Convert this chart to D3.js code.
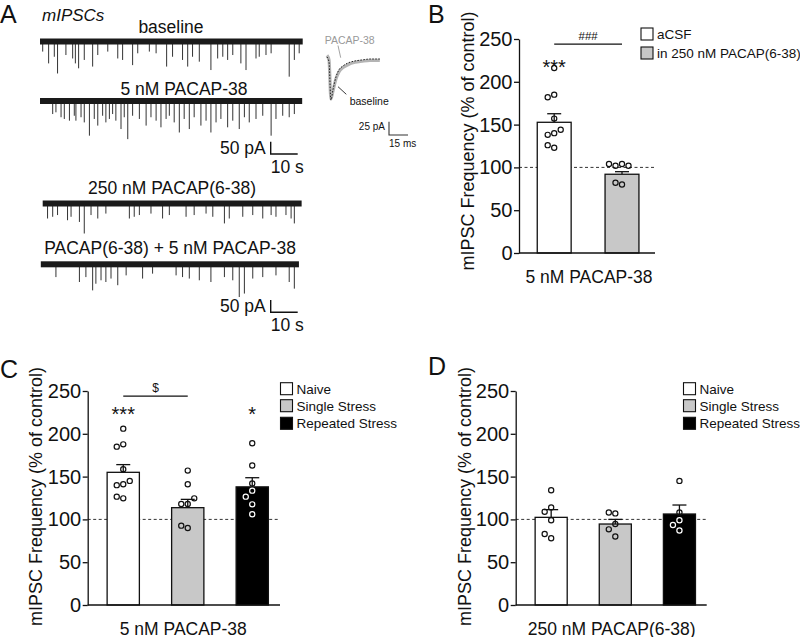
<!DOCTYPE html>
<html><head><meta charset="utf-8">
<script src="https://cdn.jsdelivr.net/npm/d3@7"></script>
<style>body{margin:0;background:#fff}svg text{font-family:"Liberation Sans",Arial,sans-serif}</style>
</head><body>
<svg id="fig" width="800" height="637"></svg>
<script>
// ---------------- DATA ----------------
const yTicks = [0, 50, 100, 150, 200, 250];
// Panel B
const catsB = ["aCSF", "in 250 nM PACAP(6-38)"];
const meansB = [152.7, 92];
const semB = [10, 3];
const pointsB = [[216, 185, 182, 157, 140, 138, 144, 123, 126], [104, 102, 102, 104, 80, 82]];
// Panel C
const catsCD = ["Naive", "Single Stress", "Repeated Stress"];
const meansC = [155, 113.7, 138];
const semC = [9, 9.7, 10.7];
const pointsC = [[206, 187.7, 185, 158.5, 141, 140, 145, 124.6, 126.6], [157, 141, 118, 118, 124.6, 90, 92.7], [189, 163, 142, 133.6, 126.6, 117.6, 106]];
// Panel D
const meansD = [102.4, 94.6, 106.3];
const semD = [9, 5.4, 10.5];
const pointsD = [[134, 114, 109, 99, 78, 83], [107, 108, 94.6, 88.4, 80], [145, 108, 99, 93.5, 87]];
// Panel A: mIPSC events [time (s), amplitude (pA)]
const spikesBaseline = [[1.0,41],[3.2,89],[5.3,62],[6.5,130],[9.6,55],[12.1,69],[13.1,89],[14.3,109],[16.4,75],[19.5,102],[21.4,55],[25.1,41],[28.8,69],[30.6,75],[34.3,96],[36.2,48],[40.5,41],[43.0,48],[46.9,102],[49.1,62],[52.8,75],[54.7,102],[56.5,62],[59.0,82],[63.3,116],[65.8,69],[67.7,62],[69.5,75],[71.4,55],[74.4,89],[76.3,116],[80.0,69],[81.2,62],[83.7,55],[85.6,48],[92.3,143],[94.2,75],[96.0,48]];
const spikesPacap = [[4.7,53],[5.9,46],[7.8,66],[9.0,73],[10.9,80],[12.7,60],[13.3,80],[15.2,66],[16.4,87],[18.3,141],[20.1,73],[21.4,100],[23.2,60],[24.4,87],[25.7,73],[26.9,53],[28.1,80],[30.0,114],[31.2,66],[32.5,155],[34.3,60],[36.8,73],[39.3,100],[41.1,66],[43.0,80],[44.8,107],[46.7,73],[47.9,60],[49.7,87],[51.6,128],[53.4,73],[55.3,114],[57.1,66],[59.6,100],[61.5,80],[63.3,128],[65.2,87],[67.0,73],[69.5,107],[71.4,80],[73.8,114],[75.7,66],[77.5,87],[80.0,73],[82.5,60],[85.6,141],[87.4,73],[89.9,60],[92.3,66],[94.2,53]];
const spikesAntag = [[2.8,61],[4.7,54],[6.5,47],[10.2,68],[11.5,54],[14.6,75],[16.4,122],[18.9,47],[21.4,61],[24.4,41],[33.1,61],[34.9,54],[36.8,47],[41.1,41],[45.4,61],[47.9,47],[54.1,54],[57.1,47],[61.5,41],[64.0,54],[68.3,81],[70.1,61],[75.1,54],[78.8,47],[82.5,61],[85.6,47],[87.4,54],[91.1,47],[93.0,61],[94.2,81]];
const spikesAntagPacap = [[5.9,52],[14.6,72],[17.0,52],[19.5,106],[20.7,79],[22.6,65],[24.4,72],[26.3,58],[28.8,85],[31.9,45],[38.0,58],[41.7,38],[50.4,45],[52.8,52],[55.3,58],[59.0,65],[63.3,72],[68.3,52],[71.4,65],[73.8,133],[75.7,119],[78.8,58],[82.5,52],[87.4,45],[92.3,72],[94.2,99]];
// Inset averaged mIPSC: time (ms), current (pA)
const insetTime = [0, 1.6, 3.1, 4.7, 7.1, 9.4, 12.6, 16.5, 22, 27.6, 33.9, 41.7];
const insetBaselineI = [0, -9.4, -80.8, -62, -37.6, -24.4, -16.9, -11.3, -7.5, -5.6, -3.8, -3.8];
const insetPacapI = [3, -6, -79, -64, -41, -28, -20, -14.5, -10, -8, -6.5, -6.5];

// ---------------- DRAW ----------------
const svg = d3.select("#fig");
const FONT = "'Liberation Sans', Arial, sans-serif";
function txt(x, y, s, size, opts = {}) {
  const t = svg.append("text").attr("x", x).attr("y", y).text(s)
    .attr("font-size", size).attr("fill", opts.fill || "#111")
    .attr("text-anchor", opts.anchor || "start");
  if (opts.italic) t.attr("font-style", "italic");
  return t;
}
txt(0, 23, "A", 25); txt(428, 23, "B", 25); txt(0, 378, "C", 25); txt(428, 375, "D", 25);

// ---- Panel A traces ----
const xT = d3.scaleLinear().domain([0, 10]).range([40, 67]);   // 10 s = 27 px
const pA = d3.scaleLinear().domain([0, 50]).range([0, 12.3]);   // 50 pA
const traces = [
  {spikes: spikesBaseline, cy: 41.5, t0: 0, t1: 97.3, label: "baseline", lx: 171, ly: 33},
  {spikes: spikesPacap, cy: 101, t0: 0, t1: 97.1, label: "5 nM PACAP-38", lx: 184, ly: 94.5},
  {spikes: spikesAntag, cy: 203.5, t0: 1.0, t1: 96.9, label: "250 nM PACAP(6-38)", lx: 172, ly: 194},
  {spikes: spikesAntagPacap, cy: 264.3, t0: 0.3, t1: 95.9, label: "PACAP(6-38) + 5 nM PACAP-38", lx: 170, ly: 254}
];
traces.forEach(tr => {
  const g = svg.append("g");
  g.selectAll("line.sp").data(tr.spikes).join("line")
    .attr("x1", d => xT(d[0])).attr("x2", d => xT(d[0]))
    .attr("y1", tr.cy).attr("y2", d => tr.cy + pA(d[1]))
    .attr("stroke", "#333").attr("stroke-width", 1);
  g.append("rect").attr("x", xT(tr.t0)).attr("width", xT(tr.t1) - xT(tr.t0))
    .attr("y", tr.cy - 3).attr("height", 6).attr("fill", "#1a1a1a");
  txt(tr.lx, tr.ly, tr.label, 17.5, {anchor: "middle"});
});
txt(42, 21, "mIPSCs", 17, {italic: true});
[{y: 154, ty: 173}, {y: 312.3, ty: 331}].forEach(sb => {
  const x0 = 270.7;
  svg.append("path").attr("d", `M${x0},${sb.y - pA(50)}V${sb.y}H${x0 + (xT(10) - xT(0))}`)
    .attr("fill", "none").attr("stroke", "#111").attr("stroke-width", 1.4);
  txt(x0 - 5, sb.y, "50 pA", 17.5, {anchor: "end"});
  txt(x0, sb.ty, "10 s", 17.5);
});
// inset
const xi = d3.scaleLinear().domain([0, 15]).range([327, 346]);   // 15 ms = 19 px
const yi = d3.scaleLinear().domain([0, -25]).range([57, 70.3]);  // 25 pA = 13.3 px
const lineI = d3.line().x((d, i) => xi(insetTime[i])).y(d => yi(d)).curve(d3.curveMonotoneX);
svg.append("path").attr("d", lineI(insetPacapI)).attr("fill", "none").attr("stroke", "#b4b4b4").attr("stroke-width", 3.2);
svg.append("path").attr("d", lineI(insetBaselineI)).attr("fill", "none").attr("stroke", "#222").attr("stroke-width", 1).attr("stroke-dasharray", "1.5,1.5");
txt(324.7, 44, "PACAP-38", 10.5, {fill: "#999"});
svg.append("line").attr("x1", 338).attr("y1", 45.5).attr("x2", 340.7).attr("y2", 57.7).attr("stroke", "#999").attr("stroke-width", 0.9);
txt(349.7, 105, "baseline", 10.5);
svg.append("line").attr("x1", 338).attr("y1", 86.7).attr("x2", 346.3).attr("y2", 94.3).attr("stroke", "#222").attr("stroke-width", 0.9);
svg.append("path").attr("d", `M389,${135 - (yi(-25) - yi(0))}V135H${389 + xi(15) - xi(0)}`)
  .attr("fill", "none").attr("stroke", "#333").attr("stroke-width", 1.1);
txt(385, 129.5, "25 pA", 10, {anchor: "end"});
txt(389, 146.5, "15 ms", 10);

// ---- Bar panels ----
function barPanel(cfg) {
  const g = svg.append("g");
  const y = d3.scaleLinear().domain([0, 250]).range([cfg.y0, cfg.yTop]);
  const x = d3.scaleBand().domain(cfg.cats).range(cfg.xr).paddingInner(0.5).paddingOuter(0.25);
  const bw = x.bandwidth();
  g.append("line").attr("x1", cfg.axisX).attr("x2", cfg.xEnd).attr("y1", y(100)).attr("y2", y(100))
    .attr("stroke", "#333").attr("stroke-width", 1).attr("stroke-dasharray", "3,2.5");
  cfg.cats.forEach((c, i) => {
    const cx = x(c) + bw / 2, m = cfg.means[i], top = m + cfg.sems[i];
    g.append("line").attr("x1", cx).attr("x2", cx).attr("y1", y(m)).attr("y2", y(top)).attr("stroke", "#111").attr("stroke-width", 1.3);
    g.append("line").attr("x1", cx - 7).attr("x2", cx + 7).attr("y1", y(top)).attr("y2", y(top)).attr("stroke", "#111").attr("stroke-width", 1.3);
    g.append("rect").attr("x", x(c)).attr("y", y(m)).attr("width", bw).attr("height", cfg.y0 - y(m))
      .attr("fill", cfg.fills[i]).attr("stroke", "#111").attr("stroke-width", 1.3);
  });
  cfg.cats.forEach((c, i) => {
    const cx = x(c) + bw / 2, placed = [];
    const offs = [0, -6.5, 6.5, -13, 13, -19.5, 19.5];
    cfg.points[i].forEach(v => {
      const py = y(v);
      let ox = 0;
      for (const o of offs) {
        if (placed.every(p => Math.hypot(p[0] - o, p[1] - py) >= 6)) { ox = o; break; }
      }
      placed.push([ox, py]);
      const inside = cfg.fills[i] === "#000" && v < cfg.means[i];
      g.append("circle").attr("cx", cx + ox).attr("cy", py).attr("r", 2.6)
        .attr("fill", "none").attr("stroke", inside ? "#fff" : "#111").attr("stroke-width", 1.2);
    });
  });
  const ax = g.append("g").attr("transform", `translate(${cfg.axisX},0)`)
    .call(d3.axisLeft(y).tickValues(yTicks).tickSize(5).tickPadding(1.5).tickSizeOuter(0));
  ax.selectAll("text").attr("font-size", 20).attr("font-family", FONT).attr("fill", "#111");
  ax.selectAll("line,path").attr("stroke", "#111").attr("stroke-width", 1.3);
  g.append("line").attr("x1", cfg.axisX).attr("x2", cfg.xEnd).attr("y1", cfg.y0).attr("y2", cfg.y0).attr("stroke", "#111").attr("stroke-width", 1.3);
  g.append("text").attr("transform", `translate(${cfg.ylx},${cfg.yly}) rotate(-90)`)
    .attr("text-anchor", "middle").attr("font-size", 18).attr("fill", "#111").text("mIPSC Frequency (% of control)");
  g.append("text").attr("x", cfg.xlx).attr("y", cfg.y0 + 29.5).attr("text-anchor", "middle").attr("font-size", 17.5).attr("fill", "#111").text(cfg.xlabel);
  (cfg.stars || []).forEach(s => {
    const cx = x(cfg.cats[s.i]) + bw / 2;
    g.append("text").attr("x", cx).attr("y", y(s.level) + 12).attr("text-anchor", "middle").attr("font-size", 20).attr("fill", "#111").text(s.label);
  });
  (cfg.brackets || []).forEach(b => {
    const x1 = x(cfg.cats[b.a]) + bw / 2, x2 = x(cfg.cats[b.b]) + bw / 2;
    g.append("line").attr("x1", x1).attr("x2", x2).attr("y1", y(b.level)).attr("y2", y(b.level)).attr("stroke", "#111").attr("stroke-width", 1.2);
    g.append("text").attr("x", (x1 + x2) / 2).attr("y", y(b.level) - 4).attr("text-anchor", "middle").attr("font-size", b.size).attr("fill", "#111").text(b.label);
  });
  cfg.legendRows.forEach((ly, i) => {
    g.append("rect").attr("x", cfg.legX).attr("y", ly - 6).attr("width", 12).attr("height", 12)
      .attr("fill", cfg.fills[i]).attr("stroke", "#111").attr("stroke-width", 1.1);
    g.append("text").attr("x", cfg.legX + 16).attr("y", ly + 5).attr("font-size", 13.5).attr("fill", "#111").text(cfg.cats[i]);
  });
}
const fills3 = ["#fff", "#c8c8c8", "#000"];
barPanel({cats: catsB, means: meansB, sems: semB, points: pointsB, fills: ["#fff", "#c8c8c8"],
  y0: 253, yTop: 39, axisX: 519, xr: [520.3, 655.9], xEnd: 655,
  ylx: 474, yly: 141, xlx: 589, xlabel: "5 nM PACAP-38",
  stars: [{i: 0, label: "***", level: 223}],
  brackets: [{a: 0, b: 1, level: 244, label: "###", size: 11.5}],
  legX: 641, legendRows: [34, 53]});
barPanel({cats: catsCD, means: meansC, sems: semC, points: pointsC, fills: fills3,
  y0: 605, yTop: 391, axisX: 87.7, xr: [91, 284.5], xEnd: 280,
  ylx: 42, yly: 496.5, xlx: 183.3, xlabel: "5 nM PACAP-38",
  stars: [{i: 0, label: "***", level: 229}, {i: 2, label: "*", level: 229}],
  brackets: [{a: 0, b: 1, level: 244, label: "$", size: 12}],
  legX: 280.5, legendRows: [388.7, 405.7, 423.3]});
barPanel({cats: catsCD, means: meansD, sems: semD, points: pointsD, fills: fills3,
  y0: 605, yTop: 391, axisX: 515.7, xr: [519.1, 711.5], xEnd: 706.7,
  ylx: 471, yly: 496.5, xlx: 611.7, xlabel: "250 nM PACAP(6-38)",
  legX: 683.5, legendRows: [388.7, 405.7, 423.3]});
</script>
</body></html>
